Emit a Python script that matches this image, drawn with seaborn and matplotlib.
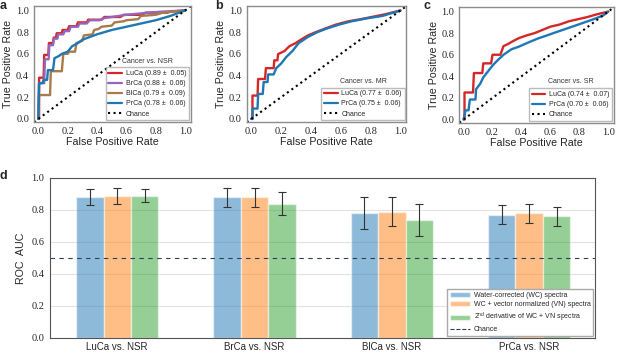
import numpy as np
import pandas as pd
import matplotlib.pyplot as plt
import seaborn as sns
from matplotlib.patches import Patch
from matplotlib.lines import Line2D

# ---- ROC data (mean curves) ----
# a: cancer vs NSR
a_luca_fpr = [0, 0.005, 0.005, 0.036, 0.04, 0.068, 0.072, 0.10, 0.105, 0.12, 0.125, 0.16, 0.165, 0.20,
              0.21, 0.26, 0.27, 0.33, 0.34, 0.43, 0.45, 0.56, 0.58, 0.71, 0.73, 0.88, 0.90, 1.0]
a_luca_tpr = [0, 0, 0.38, 0.38, 0.59, 0.59, 0.70, 0.70, 0.75, 0.75, 0.79, 0.79, 0.82, 0.82,
              0.855, 0.855, 0.89, 0.89, 0.915, 0.915, 0.94, 0.94, 0.96, 0.96, 0.98, 0.98, 0.99, 1.0]
a_brca_fpr = [0, 0.005, 0.04, 0.045, 0.07, 0.075, 0.10, 0.105, 0.13, 0.135, 0.17, 0.18, 0.21, 0.22,
              0.27, 0.28, 0.33, 0.35, 0.42, 0.45, 0.55, 0.60, 0.75, 0.85, 1.0]
a_brca_tpr = [0, 0.33, 0.33, 0.55, 0.55, 0.68, 0.68, 0.74, 0.74, 0.78, 0.78, 0.81, 0.81, 0.85,
              0.85, 0.88, 0.88, 0.91, 0.91, 0.93, 0.95, 0.96, 0.98, 0.99, 1.0]
a_blca_fpr = [0, 0.005, 0.08, 0.085, 0.16, 0.17, 0.20, 0.21, 0.25, 0.26, 0.30, 0.31, 0.37, 0.38,
              0.41, 0.43, 0.50, 0.52, 0.58, 0.60, 0.68, 0.70, 0.80, 0.85, 1.0]
a_blca_tpr = [0, 0.22, 0.22, 0.44, 0.44, 0.60, 0.60, 0.62, 0.62, 0.70, 0.72, 0.77, 0.78, 0.82,
              0.83, 0.85, 0.86, 0.89, 0.90, 0.91, 0.92, 0.95, 0.96, 0.98, 1.0]
a_prca_fpr = [0, 0.005, 0.03, 0.035, 0.06, 0.065, 0.10, 0.11, 0.14, 0.16, 0.20, 0.23, 0.27, 0.30,
              0.34, 0.40, 0.45, 0.50, 0.60, 0.70, 0.80, 0.90, 1.0]
a_prca_tpr = [0, 0.33, 0.33, 0.36, 0.36, 0.45, 0.45, 0.56, 0.58, 0.60, 0.62, 0.67, 0.70, 0.73,
              0.75, 0.78, 0.80, 0.82, 0.85, 0.88, 0.91, 0.95, 1.0]

# b: cancer vs MR
b_luca_fpr = [0, 0.008, 0.008, 0.042, 0.046, 0.092, 0.098, 0.15, 0.154, 0.175, 0.18, 0.223, 0.255,
              0.296, 0.328, 0.38, 0.432, 0.495, 0.568, 0.651, 0.735, 0.818, 0.90, 1.0]
b_luca_tpr = [0, 0, 0.215, 0.215, 0.368, 0.368, 0.468, 0.468, 0.54, 0.54, 0.598, 0.626, 0.67,
              0.698, 0.727, 0.77, 0.80, 0.833, 0.87, 0.90, 0.92, 0.943, 0.966, 1.0]
b_prca_fpr = [0, 0.008, 0.008, 0.042, 0.046, 0.077, 0.083, 0.109, 0.113, 0.15, 0.167, 0.20, 0.234,
              0.276, 0.317, 0.38, 0.443, 0.505, 0.589, 0.672, 0.777, 0.88, 1.0]
b_prca_tpr = [0, 0, 0.095, 0.095, 0.23, 0.23, 0.34, 0.34, 0.41, 0.41, 0.468, 0.51, 0.57,
              0.626, 0.698, 0.756, 0.80, 0.833, 0.87, 0.90, 0.928, 0.95, 1.0]

# c: cancer vs SR
c_luca_fpr = [0, 0.006, 0.006, 0.065, 0.071, 0.129, 0.136, 0.19, 0.20, 0.254, 0.276, 0.308, 0.34,
              0.384, 0.4375, 0.49, 0.545, 0.60, 0.664, 0.728, 0.793, 0.858, 0.922, 1.0]
c_luca_tpr = [0, 0, 0.25, 0.25, 0.43, 0.43, 0.52, 0.52, 0.60, 0.60, 0.68, 0.70, 0.725,
              0.755, 0.78, 0.80, 0.83, 0.86, 0.88, 0.91, 0.93, 0.95, 0.975, 1.0]
c_prca_fpr = [0, 0.013, 0.034, 0.043, 0.082, 0.086, 0.114, 0.136, 0.168, 0.20, 0.233, 0.276, 0.33,
              0.384, 0.448, 0.513, 0.578, 0.642, 0.707, 0.772, 0.836, 0.90, 0.966, 1.0]
c_prca_tpr = [0, 0.085, 0.085, 0.185, 0.185, 0.28, 0.33, 0.39, 0.445, 0.50, 0.546, 0.60, 0.65,
              0.676, 0.714, 0.75, 0.78, 0.81, 0.84, 0.87, 0.90, 0.93, 0.965, 1.0]

# ---- AUC bar data ----
comparisons = ["LuCa vs. NSR", "BrCa vs. NSR", "BlCa vs. NSR", "PrCa vs. NSR"]
methods = ["Water-corrected (WC) spectra",
           "WC + vector normalized (VN) spectra",
           "2$^{\\mathrm{nd}}$ derivative of WC + VN spectra"]
wc_auc = [0.88, 0.88, 0.78, 0.77]
wc_err = [0.05, 0.06, 0.10, 0.06]
vn_auc = [0.89, 0.88, 0.79, 0.78]
vn_err = [0.05, 0.06, 0.09, 0.06]
d2_auc = [0.89, 0.84, 0.74, 0.76]
d2_err = [0.04, 0.07, 0.10, 0.06]

red, purple, brown, blue = "#d62728", "#9467bd", "#a87b48", "#1f77b4"
bar_colors = ["#1f77b4", "#ff7f0e", "#2ca02c"]

sns.set_style("white")
plt.rcParams["font.family"] = ["Liberation Sans", "DejaVu Sans"]
plt.rcParams["mathtext.fontset"] = "custom"
plt.rcParams["mathtext.rm"] = "Liberation Sans"
serif = ["Liberation Serif", "DejaVu Serif"]
ticks = np.arange(0, 1.01, 0.2)
tick_txt = [f"{t:.1f}" for t in ticks]

fig = plt.figure(figsize=(6.17, 3.53), dpi=100)
ax_a = fig.add_axes([0.055, 0.654, 0.2545, 0.3286])
ax_b = fig.add_axes([0.400, 0.654, 0.2587, 0.3286])
ax_c = fig.add_axes([0.7444, 0.6524, 0.2507, 0.327])
ax_d = fig.add_axes([0.081, 0.0425, 0.8833, 0.4533])

panels = [
    (ax_a, "Cancer vs. NSR", [
        (a_luca_fpr, a_luca_tpr, red, "LuCa (0.89 \u00b1  0.05)"),
        (a_brca_fpr, a_brca_tpr, purple, "BrCa (0.88 \u00b1  0.06)"),
        (a_blca_fpr, a_blca_tpr, brown, "BlCa (0.79 \u00b1  0.09)"),
        (a_prca_fpr, a_prca_tpr, blue, "PrCa (0.78 \u00b1  0.06)"),
    ]),
    (ax_b, "Cancer vs. MR", [
        (b_luca_fpr, b_luca_tpr, red, "LuCa (0.77 \u00b1  0.06)"),
        (b_prca_fpr, b_prca_tpr, blue, "PrCa (0.75 \u00b1  0.06)"),
    ]),
    (ax_c, "Cancer vs. SR", [
        (c_luca_fpr, c_luca_tpr, red, "LuCa (0.74 \u00b1  0.07)"),
        (c_prca_fpr, c_prca_tpr, blue, "PrCa (0.70 \u00b1  0.06)"),
    ]),
]

for ax, title, curves in panels:
    handles = []
    for fpr, tpr, col, lab in curves:
        sns.lineplot(x=fpr, y=tpr, ax=ax, color=col, lw=1.7, estimator=None, sort=False)
        handles.append(Line2D([], [], color=col, lw=1.6, label=lab))
    ax.axline((0, 0), slope=1, color="black", ls=":", lw=1.5)
    handles.append(Line2D([], [], color="black", ls=":", lw=1.5, label="Chance"))
    ax.set_xlim(-0.03, 1.04)
    ax.set_ylim(-0.03, 1.04)
    ax.set_xticks(ticks)
    ax.set_yticks(ticks)
    ax.set_xticklabels(tick_txt, family=serif, fontsize=7.4)
    ax.set_yticklabels(tick_txt, family=serif, fontsize=7.4)
    ax.tick_params(length=2, width=0.6, color="#555555", pad=1.5)
    ax.set_xlabel("False Positive Rate", fontsize=7.7, labelpad=1)
    ax.set_ylabel("True Positive Rate", fontsize=7.7, labelpad=2)
    for s in ax.spines.values():
        s.set_color("#8c8c8c")
        s.set_linewidth(1.0)
    leg = ax.legend(handles=handles, loc="lower right", fontsize=5, frameon=True,
                    fancybox=False, edgecolor="#aaaaaa", borderaxespad=0.25,
                    handlelength=2.0, handletextpad=0.5, labelspacing=0.45, borderpad=0.4)
    ax.annotate(title, xy=(0.5, 1.0), xycoords=leg, ha="center", va="bottom",
                fontsize=5, color="#333333", xytext=(0, 2), textcoords="offset points")

# ---- panel d ----
df = pd.DataFrame({
    "comparison": comparisons * 3,
    "method": np.repeat(methods, len(comparisons)),
    "auc": wc_auc + vn_auc + d2_auc,
})
sns.barplot(data=df, x="comparison", y="auc", hue="method", palette=bar_colors,
            alpha=0.5, width=0.6, errorbar=None, legend=False, saturation=1, ax=ax_d)
for cont, errs in zip(ax_d.containers, [wc_err, vn_err, d2_err]):
    for bar, e in zip(cont, errs):
        ax_d.errorbar(bar.get_x() + bar.get_width() / 2, bar.get_height(), yerr=e,
                      color="#333333", lw=0.8, capsize=3, capthick=0.8)
ax_d.axhline(0.5, color="#2f3e55", ls="--", lw=0.8, dashes=(4, 4))
ax_d.set_ylim(0, 1.0)
ax_d.set_xlim(-0.49, 3.48)
ax_d.set_yticks(ticks)
ax_d.set_yticklabels(tick_txt, family=serif, fontsize=7.5)
ax_d.tick_params(axis="x", labelsize=7, length=2, pad=1)
ax_d.tick_params(axis="y", length=0, pad=4)
ax_d.yaxis.grid(True, color="#e2e2e2", lw=0.8)
ax_d.set_axisbelow(True)
ax_d.set_xlabel("")
ax_d.set_ylabel("ROC  AUC", fontsize=7.7, labelpad=4)
for s in ax_d.spines.values():
    s.set_color("#555555")
    s.set_linewidth(0.8)
d_handles = [Patch(facecolor=c, alpha=0.5, label=m) for c, m in zip(bar_colors, methods)]
d_handles.append(Line2D([], [], color="#2f3e55", ls="--", lw=0.8, label="Chance"))
ax_d.legend(handles=d_handles, loc="lower right", fontsize=5, frameon=True, fancybox=False,
            edgecolor="#aaaaaa", framealpha=1, borderaxespad=0.25, labelspacing=0.35,
            handlelength=2.9, handletextpad=0.5, borderpad=0.4)

for lab, x, y in [("a", 0.0, 1.0), ("b", 0.348, 1.0), ("c", 0.686, 1.0), ("d", 0.0, 0.518)]:
    fig.text(x, y, lab, fontsize=9, fontweight="bold", va="top", ha="left")

fig.savefig("out.png", dpi=100)
